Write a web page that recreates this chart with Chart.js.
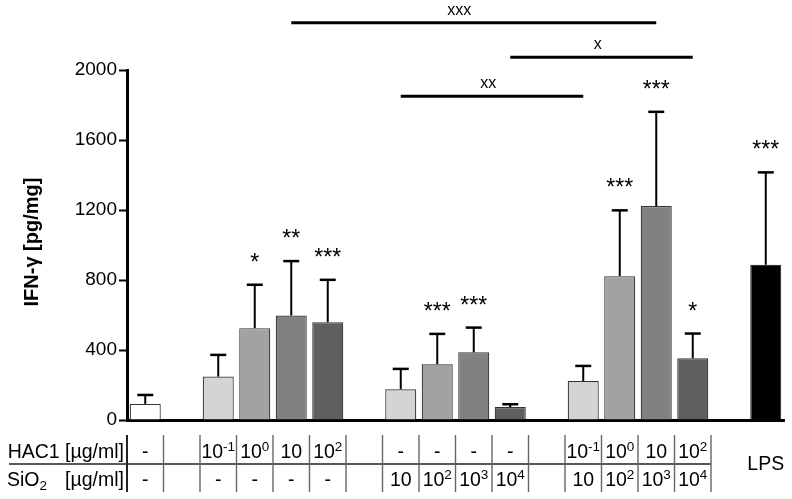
<!DOCTYPE html>
<html>
<head>
<meta charset="utf-8">
<script src="https://cdn.jsdelivr.net/npm/chart.js@4"></script>
<style>
  html, body { margin: 0; padding: 0; background: #fff; }
  canvas { display: block; }
</style>
</head>
<body>
<canvas id="ifnChart" width="792" height="499"></canvas>
<script>
// one entry per slot on the x axis, '' = empty spacer between groups
const categories = ['Ctrl', '', 'H-1', 'H0', 'H1', 'H2', '', 'S1', 'S2', 'S3', 'S4', '', 'HS1', 'HS2', 'HS3', 'HS4', '', 'LPS'];
const meanValues = [92, null, 248, 525, 597, 559, null, 176, 319, 387, 74, null, 223, 822, 1223, 353, null, 887];
const sdValues   = [51, null, 124, 248, 311, 242, null, 116, 173, 141, 16, null, 86, 376, 538, 141, null, 528];
const stars      = ['', '', '', '*', '**', '***', '', '', '***', '***', '', '', '', '***', '***', '*', '', '***'];
const barColors  = ['#ffffff', null, '#d4d4d4', '#a2a2a2', '#818181', '#5f5f5f', null, '#d4d4d4', '#a2a2a2', '#818181', '#5f5f5f', null, '#d4d4d4', '#a2a2a2', '#818181', '#5f5f5f', null, '#000000'];

// table under the axis; '^' marks a superscript
const hac1Row = ['-', '', '10^-1', '10^0', '10', '10^2', '', '-', '-', '-', '-', '', '10^-1', '10^0', '10', '10^2', '', ''];
const sio2Row = ['-', '', '-', '-', '-', '-', '', '10', '10^2', '10^3', '10^4', '', '10', '10^2', '10^3', '10^4', '', ''];

// significance brackets between bars
const bracketFrom   = [4, 10, 7];
const bracketTo     = [14, 15, 12];
const bracketLevel  = [2270, 2073, 1850];
const bracketLabel  = ['xxx', 'x', 'xx'];
const bracketLabelAt = [8.6, 12.4, 9.4];

const yTicks = [0, 400, 800, 1200, 1600, 2000];

const FONT = '"Liberation Sans", Arial, sans-serif';

function drawSup(ctx, text, x, y) {
    // text like '10^2' centred at x, baseline y
    const parts = text.split('^');
    ctx.font = '19.5px ' + FONT;
    const wBase = ctx.measureText(parts[0]).width;
    let wSup = 0;
    if (parts[1]) {
        ctx.font = '13.5px ' + FONT;
        wSup = ctx.measureText(parts[1]).width;
    }
    const start = x - (wBase + wSup) / 2;
    ctx.textAlign = 'left';
    ctx.font = '19.5px ' + FONT;
    ctx.fillText(parts[0], start, y);
    if (parts[1]) {
        ctx.font = '13.5px ' + FONT;
        ctx.fillText(parts[1], start + wBase, y - 7);
    }
}

const overlayPlugin = {
    id: 'overlay',
    afterDatasetsDraw(chart) {
        const ctx = chart.ctx;
        const xs = chart.scales.x;
        const ys = chart.scales.y;
        ctx.save();
        ctx.strokeStyle = '#000';
        ctx.fillStyle = '#000';

        // error bars (upper only) and stars
        meanValues.forEach((v, i) => {
            if (v === null) return;
            const x = xs.getPixelForValue(i);
            const yBar = ys.getPixelForValue(v);
            const yTop = ys.getPixelForValue(v + sdValues[i]);
            ctx.lineWidth = 2;
            ctx.beginPath();
            ctx.moveTo(x, yBar);
            ctx.lineTo(x, yTop);
            ctx.stroke();
            ctx.lineWidth = 2.5;
            ctx.beginPath();
            ctx.moveTo(x - 8, yTop);
            ctx.lineTo(x + 8, yTop);
            ctx.stroke();
            if (stars[i]) {
                ctx.font = '23px ' + FONT;
                ctx.textAlign = 'center';
                ctx.textBaseline = 'alphabetic';
                ctx.fillText(stars[i], x, yTop - 15);
            }
        });

        // brackets
        bracketFrom.forEach((from, k) => {
            const y = ys.getPixelForValue(bracketLevel[k]);
            ctx.lineWidth = 3;
            ctx.beginPath();
            ctx.moveTo(xs.getPixelForValue(from), y);
            ctx.lineTo(xs.getPixelForValue(bracketTo[k]), y);
            ctx.stroke();
            const lx = xs.getPixelForValue(0) + bracketLabelAt[k] * (xs.getPixelForValue(1) - xs.getPixelForValue(0));
            ctx.font = '16px ' + FONT;
            ctx.textAlign = 'center';
            ctx.textBaseline = 'alphabetic';
            ctx.fillText(bracketLabel[k], lx, y - 8);
        });

        // y title
        ctx.save();
        ctx.translate(38, 242);
        ctx.rotate(-Math.PI / 2);
        ctx.font = 'bold 20px ' + FONT;
        ctx.textAlign = 'center';
        ctx.textBaseline = 'alphabetic';
        ctx.fillText('IFN-γ [pg/mg]', 0, 0);
        ctx.restore();

        // table
        const step = xs.getPixelForValue(1) - xs.getPixelForValue(0);
        const row1 = 457.5, row2 = 485.5;
        ctx.textBaseline = 'alphabetic';
        ctx.font = '19.5px ' + FONT;
        ctx.textAlign = 'right';
        ctx.fillText('HAC1 [µg/ml]', 124, row1);
        ctx.fillText('[µg/ml]', 124, row2);
        ctx.textAlign = 'left';
        ctx.fillText('SiO', 7, row2);
        const wSi = ctx.measureText('SiO').width;
        ctx.font = '13.5px ' + FONT;
        ctx.fillText('2', 7 + wSi, row2 + 4);

        hac1Row.forEach((t, i) => { if (t) drawSup(ctx, t, xs.getPixelForValue(i), row1); });
        sio2Row.forEach((t, i) => { if (t) drawSup(ctx, t, xs.getPixelForValue(i), row2); });
        ctx.font = '19.5px ' + FONT;
        ctx.textAlign = 'center';
        ctx.fillText('LPS', xs.getPixelForValue(categories.length - 1), 470);

        const firstEdge = xs.getPixelForValue(0) - step / 2;
        const lastEdge = xs.getPixelForValue(15) + step / 2;
        ctx.strokeStyle = '#222';
        ctx.lineWidth = 1.3;
        ctx.beginPath();
        ctx.moveTo(9, 464);
        ctx.lineTo(lastEdge, 464);
        ctx.stroke();
        for (let i = 0; i <= 16; i++) {
            const x = firstEdge + i * step;
            ctx.strokeStyle = i === 0 ? '#222' : '#666';
            ctx.lineWidth = i === 0 ? 2 : 1.4;
            ctx.beginPath();
            ctx.moveTo(x, 435);
            ctx.lineTo(x, 492);
            ctx.stroke();
        }
        ctx.restore();
    }
};

new Chart(document.getElementById('ifnChart'), {
    type: 'bar',
    data: {
        labels: categories,
        datasets: [{
            data: meanValues,
            backgroundColor: barColors,
            borderColor: '#333',
            borderWidth: 1.2,
            barPercentage: 0.85,
            categoryPercentage: 1
        }]
    },
    options: {
        responsive: false,
        animation: false,
        devicePixelRatio: 1,
        layout: { padding: { top: 70, right: 8, left: 0, bottom: 0 } },
        plugins: { legend: { display: false }, tooltip: { enabled: false } },
        scales: {
            x: {
                grid: { display: true, drawOnChartArea: false, drawTicks: false },
                border: { color: '#000', width: 3 },
                ticks: { display: false },
                afterFit: s => { s.height = 79; }
            },
            y: {
                min: 0,
                max: 2000,
                afterBuildTicks: s => { s.ticks = yTicks.map(v => ({ value: v })); },
                ticks: { font: { family: FONT, size: 19 }, color: '#000', padding: 2, callback: v => String(v) },
                grid: { drawOnChartArea: false, tickLength: 8, tickWidth: 2, color: '#000' },
                border: { color: '#000', width: 3 },
                afterFit: s => { s.width = 127; }
            }
        }
    },
    plugins: [overlayPlugin]
});
</script>
</body>
</html>
